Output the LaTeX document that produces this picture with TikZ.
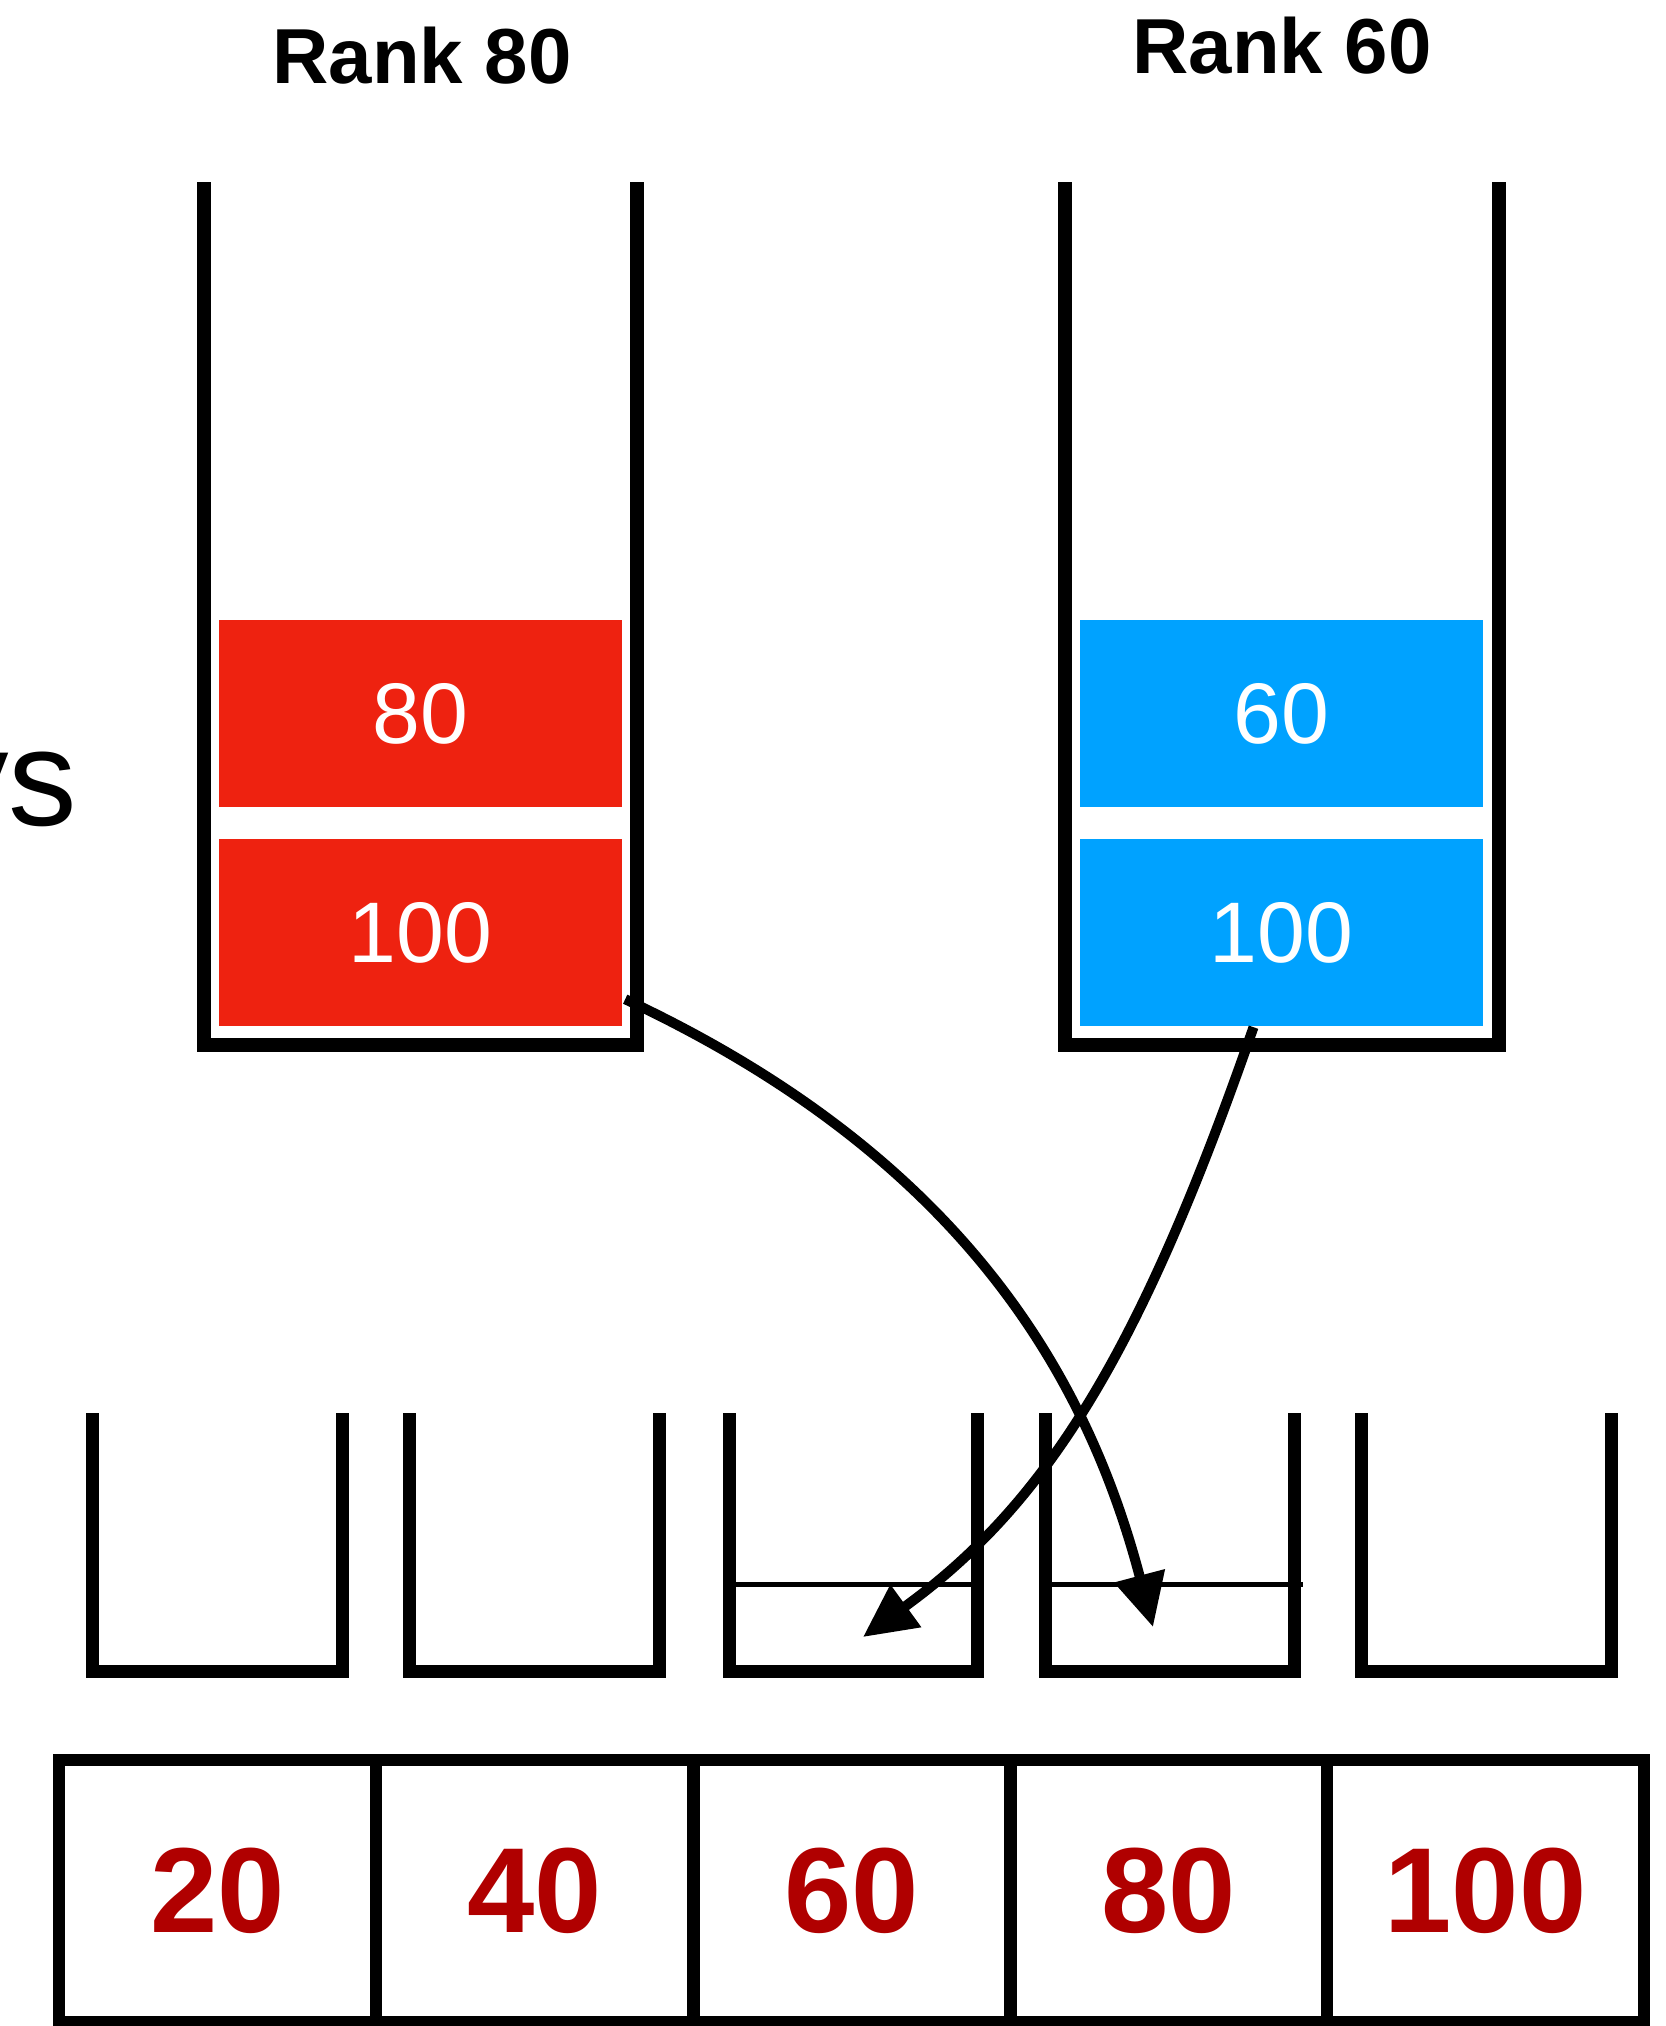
\documentclass[tikz,border=0pt]{standalone}
\usepackage{fontspec}
\setmainfont{Liberation Sans}
\usetikzlibrary{arrows.meta,calc}
\definecolor{stackred}{RGB}{238,34,16}
\definecolor{stackblue}{RGB}{0,162,255}
\definecolor{keyred}{RGB}{176,0,0}
\begin{document}
\begin{tikzpicture}[x=1pt,y=-1pt,
  container/.style={line width=14pt, line join=miter},
  bucketwall/.style={line width=13pt, line join=miter},
  fillline/.style={line width=5pt},
  stackitem/.style={inner sep=0pt, minimum width=403pt, minimum height=187pt,
    text=white, font=\fontsize{86}{100}\selectfont},
  ranktext/.style={inner sep=0pt, anchor=base, font=\fontsize{78}{90}\selectfont\bfseries},
  cell/.style={draw, line width=12pt, inner sep=0pt, minimum width=317pt,
    minimum height=262pt, text=keyred, font=\fontsize{121}{140}\selectfont\bfseries},
  move/.style={line width=10pt, -{Triangle[length=53pt,width=50pt]}}
]
\clip (0,0) rectangle (1665,2026);

% titles
\node[ranktext] (rank80) at (422,84) {Rank 80};
\node[ranktext] (rank60) at (1282,74) {Rank 60};

% word cut by the left edge
\node[anchor=base west, inner sep=0pt, font=\fontsize{137}{160}\selectfont] (keys) at (-60,825) {ys};

% the two tall containers
\draw[container] (203.5,182) -- (203.5,1045) -- (637,1045) -- (637,182);
\draw[container] (1064.5,182) -- (1064.5,1045) -- (1498.5,1045) -- (1498.5,182);

% stacked items
\node[stackitem, fill=stackred] (red80) at (420.5,713.5) {80};
\node[stackitem, fill=stackred] (red100) at (420.5,932.5) {100};
\node[stackitem, fill=stackblue] (blue60) at (1281.5,713.5) {60};
\node[stackitem, fill=stackblue] (blue100) at (1281.5,932.5) {100};

% five open buckets
\foreach \l/\r in {92.5/342.5, 409.5/659, 729/977.5, 1045/1294.5, 1361.5/1611}
  \draw[bucketwall] (\l,1413) -- (\l,1671) -- (\r,1671) -- (\r,1413);

% filled levels in buckets 3 and 4
\draw[fillline] (729,1584) -- (977.5,1584);
\draw[fillline] (1045,1584) -- (1303,1584);

% key row
\node[cell] (k20) at (217.5,1891) {20};
\node[cell] (k40) at (534.5,1891) {40};
\node[cell] (k60) at (852,1891) {60};
\node[cell] (k80) at (1168.5,1891) {80};
\node[cell] (k100) at (1485.5,1891) {100};

% targets inside buckets
\coordinate (slot80) at (1153,1627);
\coordinate (slot60) at (863,1637);

% moves
\draw[move] ($(red100.south east)+(3,-27)$) .. controls (969,1160) and (1089,1384) .. (slot80);
\draw[move] ($(blue100.south)+(-28,1)$) .. controls (1142,1348) and (1049,1502) .. (slot60);
\end{tikzpicture}
\end{document}
